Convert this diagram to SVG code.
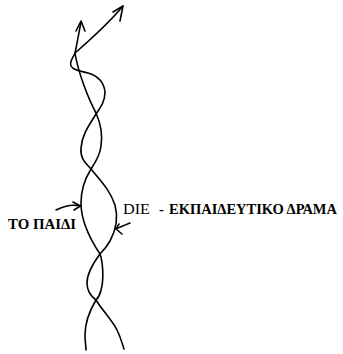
<svg xmlns="http://www.w3.org/2000/svg" width="343" height="354" viewBox="0 0 343 354">
<style>
.s{fill:none;stroke:#000;stroke-width:1.6;stroke-linecap:round;stroke-linejoin:round}
.t{font-family:"Liberation Serif","Times New Roman",serif;font-size:14.5px;fill:#000}
.g{font-family:"Liberation Serif","DejaVu Serif",serif;font-size:14px;font-weight:bold;fill:#000}
.b{font-weight:bold}
</style>
<rect width="343" height="354" fill="#fff"/>
<g id="connectors">
<path id="strandA" class="s" d="M81,22 C79,32 77,44 75,53 C73,58 69,62 71,66 C73,70 80,71 88,73 C98,76 104,82 105,92 C105,102 100,108 96,114 C90,124 82,134 81,148 C80,160 87,164 91,169 C100,180 110,190 115,205 C118,216 117,228 110,241 C106,248 103,251 100,254 C94,262 87,272 87,283 C87,292 92,297 96,300 C102,310 112,320 117,330 C121,338 122,343 124,349"/>
<path id="strandB" class="s" d="M123,6 C108,24 90,40 75,53 C78,72 88,98 96,113 C100,122 103,133 101,146 C100,156 95,163 91,169 C86,177 81,190 81,203 C81,220 88,236 100,254 C103,262 104,280 101,290 C100,295 98,298 96,300 C90,310 85,322 85,335 C85,342 86,346 86,350"/>
<path class="s" d="M76,31 L81,21 L85,31"/>
<path class="s" d="M113,12 L123,6 L120,21"/>
<path class="s" d="M56,210 C64,206 72,204 80,206"/>
<path class="s" d="M73,202 L80.5,206 L74,210"/>
<path class="s" d="M130,223 C125,225 120,227 116,229"/>
<path class="s" d="M119,224 L116,229 L122,234"/>
</g>
<g id="child">
<text class="g" x="8" y="228.5" textLength="68" lengthAdjust="spacingAndGlyphs">ΤΟ ΠΑΙΔΙ</text>
</g>
<g id="drama">
<text class="t" x="123" y="214" textLength="27" lengthAdjust="spacingAndGlyphs">DIE</text>
<text class="t b" x="159" y="214">-</text>
<text class="g" x="169" y="214" textLength="168" lengthAdjust="spacingAndGlyphs">ΕΚΠΑΙΔΕΥΤΙΚΟ ΔΡΑΜΑ</text>
</g>
</svg>
